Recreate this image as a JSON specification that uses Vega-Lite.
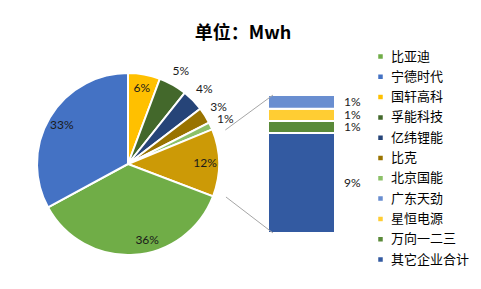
{
  "$schema": "https://vega.github.io/schema/vega-lite/v6.json",
  "autosize": {"type": "pad"},
  "padding": {"left": 28, "top": 25, "right": 0, "bottom": 0},
  "background": "white",
  "title": {"text": "单位：Mwh", "fontSize": 18, "font": "Noto Sans CJK SC", "fontWeight": "bold", "color": "#000000", "anchor": "middle", "dx": -6, "offset": 7},
  "datasets": {
    "pie": [
      {"name": "国轩高科", "pct": 0.057, "rank": 1},
      {"name": "孚能科技", "pct": 0.050, "rank": 2},
      {"name": "亿纬锂能", "pct": 0.039, "rank": 3},
      {"name": "比克", "pct": 0.029, "rank": 4},
      {"name": "北京国能", "pct": 0.013, "rank": 5},
      {"name": "其他", "pct": 0.120, "rank": 6},
      {"name": "比亚迪", "pct": 0.363, "rank": 7},
      {"name": "宁德时代", "pct": 0.329, "rank": 8}
    ],
    "bar": [
      {"name": "其它企业合计", "pct": 0.087, "rank": 1},
      {"name": "万向一二三", "pct": 0.0105, "rank": 2},
      {"name": "星恒电源", "pct": 0.0105, "rank": 3},
      {"name": "广东天劲", "pct": 0.012, "rank": 4}
    ]
  },
  "spacing": 40,
  "bounds": "flush",
  "hconcat": [
    {
      "width": 200,
      "height": 186,
      "data": {"name": "pie"},
      "encoding": {
        "theta": {"field": "pct", "type": "quantitative", "stack": "zero"},
        "order": {"field": "rank", "type": "quantitative"}
      },
      "layer": [
        {
          "mark": {"type": "arc", "radius": 91, "stroke": "white", "strokeWidth": 2},
          "encoding": {
            "color": {
              "field": "name", "type": "nominal",
              "scale": {
                "domain": ["比亚迪", "宁德时代", "国轩高科", "孚能科技", "亿纬锂能", "比克", "北京国能", "广东天劲", "星恒电源", "万向一二三", "其它企业合计", "其他"],
                "range": ["#70AD47", "#4472C4", "#FFC000", "#43682B", "#264478", "#997300", "#8CC168", "#698ED0", "#FFCD33", "#5A8A39", "#335AA1", "#CC9A06"]
              },
              "legend": {
                "values": ["比亚迪", "宁德时代", "国轩高科", "孚能科技", "亿纬锂能", "比克", "北京国能", "广东天劲", "星恒电源", "万向一二三", "其它企业合计"],
                "title": null, "orient": "none", "legendX": 346, "legendY": -21
              }
            }
          }
        },
        {
          "mark": {"type": "text", "radius": 77, "font": "Lato", "fontSize": 12, "color": "#1a1a1a"},
          "encoding": {
            "detail": {"field": "name", "type": "nominal"},
            "text": {"condition": {"test": "datum.pct > 0.055 && datum.name != '比亚迪'", "field": "pct", "type": "quantitative", "format": ".0%"}, "value": ""}
          }
        },
        {
          "mark": {"type": "text", "radius": 78, "dx": 14, "dy": -2, "font": "Lato", "fontSize": 12, "color": "#1a1a1a"},
          "encoding": {
            "detail": {"field": "name", "type": "nominal"},
            "text": {"condition": {"test": "datum.name == '比亚迪'", "field": "pct", "type": "quantitative", "format": ".0%"}, "value": ""}
          }
        },
        {
          "mark": {"type": "text", "radius": 107, "font": "Lato", "fontSize": 12, "color": "#1a1a1a"},
          "encoding": {
            "detail": {"field": "name", "type": "nominal"},
            "text": {"condition": {"test": "datum.pct <= 0.055", "field": "pct", "type": "quantitative", "format": ".0%"}, "value": ""}
          }
        }
      ]
    },
    {
      "width": 67,
      "height": 186,
      "layer": [
        {
          "data": {"name": "bar"},
          "mark": {"type": "bar", "orient": "vertical", "width": 67, "stroke": "white", "strokeWidth": 2},
          "encoding": {
            "x": {"datum": 0.5, "type": "quantitative", "scale": {"domain": [0, 1], "nice": false, "zero": false}, "axis": null},
            "y": {"field": "pct", "type": "quantitative", "stack": "zero", "scale": {"domain": [-0.02087, 0.14087], "nice": false, "zero": false}, "axis": null},
            "order": {"field": "rank", "type": "quantitative"},
            "color": {
              "field": "name", "type": "nominal",
              "scale": {
                "domain": ["比亚迪", "宁德时代", "国轩高科", "孚能科技", "亿纬锂能", "比克", "北京国能", "广东天劲", "星恒电源", "万向一二三", "其它企业合计", "其他"],
                "range": ["#70AD47", "#4472C4", "#FFC000", "#43682B", "#264478", "#997300", "#8CC168", "#698ED0", "#FFCD33", "#5A8A39", "#335AA1", "#CC9A06"]
              },
              "legend": {
                "values": ["比亚迪", "宁德时代", "国轩高科", "孚能科技", "亿纬锂能", "比克", "北京国能", "广东天劲", "星恒电源", "万向一二三", "其它企业合计"],
                "title": null, "orient": "none", "legendX": 346, "legendY": -21
              }
            }
          }
        },
        {
          "data": {"name": "bar"},
          "mark": {"type": "text", "font": "Lato", "fontSize": 12, "color": "#1a1a1a"},
          "encoding": {
            "x": {"datum": 1.39, "type": "quantitative"},
            "y": {"field": "pct", "type": "quantitative", "stack": "zero", "bandPosition": 0.5},
            "order": {"field": "rank", "type": "quantitative"},
            "detail": {"field": "name", "type": "nominal"},
            "text": {"field": "pct", "type": "quantitative", "format": ".0%"}
          }
        },
        {
          "data": {"values": [{"line": "上"}]},
          "mark": {"type": "rule", "color": "#A6A6A6", "strokeWidth": 1},
          "encoding": {
            "x": {"datum": -0.836, "type": "quantitative"},
            "x2": {"datum": 0},
            "y": {"datum": 0.0896, "type": "quantitative"},
            "y2": {"datum": 0.12}
          }
        },
        {
          "data": {"values": [{"line": "下"}]},
          "mark": {"type": "rule", "color": "#A6A6A6", "strokeWidth": 1},
          "encoding": {
            "x": {"datum": -0.825, "type": "quantitative"},
            "x2": {"datum": 0},
            "y": {"datum": 0.0313, "type": "quantitative"},
            "y2": {"datum": 0}
          }
        }
      ]
    }
  ],
  "config": {
    "view": {"stroke": null},
    "legend": {"symbolType": "square", "symbolSize": 36, "labelFont": "Noto Sans CJK SC", "labelFontSize": 13, "labelColor": "#000000", "labelOffset": 4, "rowPadding": 6.3, "labelLimit": 200, "padding": 0}
  }
}
